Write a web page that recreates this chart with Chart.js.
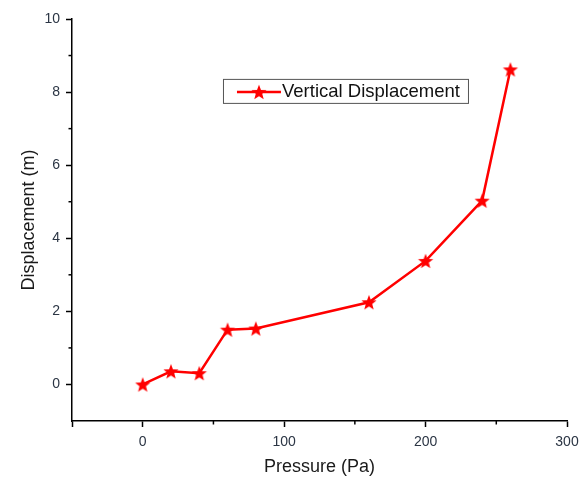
<!DOCTYPE html>
<html>
<head>
<meta charset="utf-8">
<script src="https://cdn.jsdelivr.net/npm/chart.js@4.4.1/dist/chart.umd.min.js"></script>
<style>
html, body { margin: 0; padding: 0; background: #fff; }
#wrap { width: 579px; height: 480px; position: relative; }
</style>
</head>
<body>
<div id="wrap"><canvas id="chart"></canvas></div>
<script>
// data
const pressure = [0, 20, 40, 60, 80, 160, 200, 240, 260];
const displacement = [0, 0.36, 0.31, 1.5, 1.53, 2.25, 3.38, 5.03, 8.62];
const seriesLabel = 'Vertical Displacement';
const xMajorTicks = [-50, 0, 100, 200, 300];
const xMinorTicks = [50, 150, 250];
const yMajorTicks = [0, 2, 4, 6, 8, 10];
const yMinorTicks = [1, 3, 5, 7, 9];

const RED = '#ff0000';
const FONT = "'Liberation Sans', Arial, sans-serif";

// filled five point star used as marker
function makeStar(r) {
    const s = Math.ceil(r * 2 + 2);
    const c = document.createElement('canvas');
    c.width = s; c.height = s;
    const g = c.getContext('2d');
    g.fillStyle = RED;
    g.beginPath();
    for (let i = 0; i < 10; i++) {
        const rad = i % 2 === 0 ? r : r * 0.42;
        const a = -Math.PI / 2 + i * Math.PI / 5;
        const px = s / 2 + rad * Math.cos(a);
        const py = s / 2 + 0.8 + rad * Math.sin(a);
        if (i === 0) g.moveTo(px, py); else g.lineTo(px, py);
    }
    g.closePath();
    g.fill();
    return c;
}
const star = makeStar(8);

// minor ticks and the boxed legend
const extras = {
    id: 'extras',
    afterDraw(chart) {
        const ctx = chart.ctx;
        const xs = chart.scales.x, ys = chart.scales.y;
        const a = chart.chartArea;
        ctx.save();
        ctx.strokeStyle = '#000';
        ctx.lineWidth = 1.5;
        xMinorTicks.forEach(v => {
            const px = xs.getPixelForValue(v);
            ctx.beginPath(); ctx.moveTo(px, a.bottom); ctx.lineTo(px, a.bottom + 3.5); ctx.stroke();
        });
        yMinorTicks.forEach(v => {
            const py = ys.getPixelForValue(v);
            ctx.beginPath(); ctx.moveTo(a.left, py); ctx.lineTo(a.left - 3.5, py); ctx.stroke();
        });

        // legend box
        const bx = a.left + (a.right - a.left) * 0.305;
        const by = a.top + (a.bottom - a.top) * 0.149;
        const bw = 245, bh = 24;
        ctx.strokeStyle = '#555';
        ctx.lineWidth = 1;
        ctx.strokeRect(bx + 0.5, by + 0.5, bw, bh);
        const ly = by + bh / 2 + 1;
        ctx.strokeStyle = RED;
        ctx.lineWidth = 2.5;
        ctx.beginPath(); ctx.moveTo(bx + 14, ly); ctx.lineTo(bx + 58, ly); ctx.stroke();
        ctx.drawImage(star, bx + 36 - star.width / 2, ly - star.height / 2);
        ctx.fillStyle = '#111';
        ctx.font = '18.5px ' + FONT;
        ctx.textBaseline = 'middle';
        ctx.fillText(seriesLabel, bx + 59, ly);
        ctx.restore();
    }
};

new Chart(document.getElementById('chart'), {
    type: 'line',
    data: {
        datasets: [{
            label: seriesLabel,
            data: pressure.map((p, i) => ({ x: p, y: displacement[i] })),
            borderColor: RED,
            backgroundColor: RED,
            borderWidth: 2.5,
            pointStyle: star,
            pointRadius: 7,
            pointHoverRadius: 7,
            tension: 0
        }]
    },
    options: {
        responsive: true,
        maintainAspectRatio: false,
        animation: false,
        events: [],
        layout: { padding: { top: 19, right: 12, left: 0, bottom: 0 } },
        plugins: {
            legend: { display: false },
            tooltip: { enabled: false }
        },
        scales: {
            x: {
                type: 'linear',
                min: -50,
                max: 300,
                afterBuildTicks: s => { s.ticks = xMajorTicks.map(v => ({ value: v })); },
                afterFit: s => { s.height = 59; s.paddingLeft = 0; s.paddingRight = 0; },
                border: { display: true, color: '#000', width: 1.5 },
                grid: { drawOnChartArea: false, drawTicks: true, tickLength: 6, tickColor: '#000', tickWidth: 1.5 },
                ticks: {
                    color: '#2b3544',
                    font: { family: FONT, size: 14 },
                    padding: 7,
                    maxRotation: 0,
                    callback: v => (v === -50 ? '' : v)
                },
                title: {
                    display: true,
                    text: 'Pressure (Pa)',
                    color: '#1a1a1a',
                    font: { family: FONT, size: 18 },
                    padding: { top: 0, bottom: 2 }
                }
            },
            y: {
                type: 'linear',
                min: -1,
                max: 10,
                afterBuildTicks: s => { s.ticks = yMajorTicks.map(v => ({ value: v })); },
                afterFit: s => { s.width = 72; s.paddingTop = 0; s.paddingBottom = 0; },
                border: { display: true, color: '#000', width: 1.5 },
                grid: { drawOnChartArea: false, drawTicks: true, tickLength: 6, tickColor: '#000', tickWidth: 1.5 },
                ticks: {
                    color: '#2b3544',
                    font: { family: FONT, size: 14 },
                    padding: 6
                },
                title: {
                    display: true,
                    text: 'Displacement (m)',
                    color: '#1a1a1a',
                    font: { family: FONT, size: 18 },
                    padding: { top: 18, bottom: 0 }
                }
            }
        }
    },
    plugins: [extras]
});
</script>
</body>
</html>
